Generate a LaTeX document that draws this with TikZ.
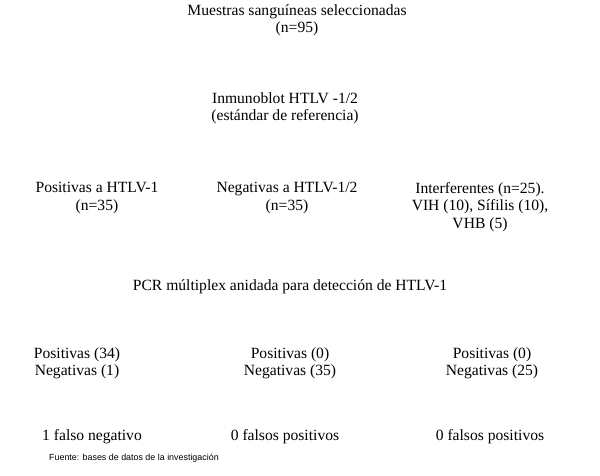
\documentclass[tikz,border=0pt]{standalone}
\usepackage{fontspec}
\setmainfont{Liberation Serif}
\newfontfamily\srcfont{Liberation Sans}
\begin{document}
\begin{tikzpicture}[x=1pt,y=-1pt,
  lbl/.style={align=center,font=\fontsize{15.6}{17.5}\selectfont,inner sep=0pt,anchor=north},
  src/.style={font=\srcfont\fontsize{8.9}{10}\selectfont,inner sep=0pt,anchor=west}]
\useasboundingbox[fill=white] (0,0) rectangle (600,475);
\node[lbl] (m) at (297,4) {Muestras sanguíneas seleccionadas\\(n=95)};
\node[lbl] (i) at (285,92) {Inmunoblot HTLV -1/2\\(estándar de referencia)};
\node[lbl] (p) at (97,182) {Positivas a HTLV-1\\(n=35)};
\node[lbl] (n) at (287,182) {Negativas a HTLV-1/2\\(n=35)};
\node[lbl] (f) at (480,182) {Interferentes (n=25).\\VIH (10), Sífilis (10),\\VHB (5)};
\node[lbl] (pcr) at (290,279) {PCR múltiplex anidada para detección de HTLV-1};
\node[lbl] (r1) at (77,347) {Positivas (34)\\Negativas (1)};
\node[lbl] (r2) at (290,347) {Positivas (0)\\Negativas (35)};
\node[lbl] (r3) at (492,347) {Positivas (0)\\Negativas (25)};
\node[lbl] (c1) at (92,429) {1 falso negativo};
\node[lbl] (c2) at (285,429) {0 falsos positivos};
\node[lbl] (c3) at (490,429) {0 falsos positivos};
\node[src] (s) at (49,458) {Fuente: bases de datos de la investigación};
\end{tikzpicture}
\end{document}
